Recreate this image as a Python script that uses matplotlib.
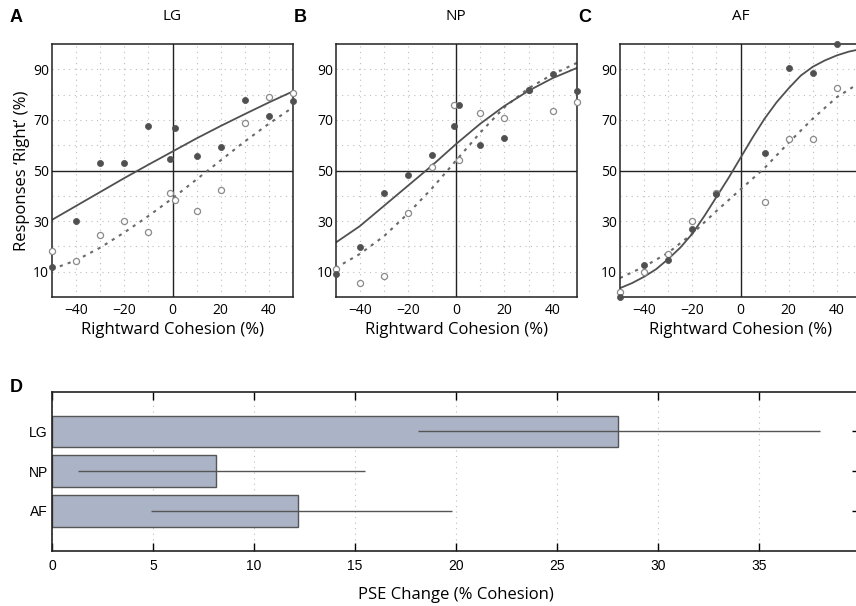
import numpy as np
import matplotlib
matplotlib.use("Agg")
from matplotlib import pyplot as plt

# Panels A-C: proportion of 'right' responses per cohesion level
coh_x = [-50, -40, -30, -20, -10, -1, 1, 10, 20, 30, 40, 50]

lg_filled = [12.0, 30.2, 53.0, 52.9, 67.6, 54.4, 66.7, 55.8, 59.4, 77.9, 71.4, 77.5]
lg_open = [18.0, 14.4, 24.7, 30.2, 25.5, 41.1, 38.5, 34.1, 42.3, 68.7, 79.0, 80.7]

np_filled = [9.1, 19.7, 41.1, 48.3, 56.2, 67.7, 75.8, 60.1, 62.8, 82.0, 88.1, 81.3]
np_open = [11.0, 5.6, 8.2, 33.2, 51.5, 75.8, 54.2, 72.8, 70.8, 82.0, 73.4, 77.2]

af_x = [-50, -40, -30, -20, -10, 10, 20, 30, 40]
af_filled = [0.0, 12.7, 14.7, 26.9, 40.7, 57.1, 90.6, 88.4, 100.0]
af_open = [2.1, 9.7, 17.1, 29.9, 41.1, 37.4, 62.6, 62.6, 82.7]

# fitted psychometric curves
fit_x = [-50, -40, -30, -20, -10, 0, 10, 20, 30, 40, 50]
lg_fit_solid = [30.5, 36.0, 41.5, 47.0, 52.3, 57.5, 62.7, 67.6, 72.3, 76.9, 81.3]
lg_fit_dashed = [11.0, 14.5, 19.5, 25.5, 32.0, 39.0, 46.5, 54.0, 61.5, 68.5, 75.0]
np_fit_solid = [21.5, 28.0, 36.0, 44.0, 52.0, 60.5, 68.5, 75.5, 81.5, 86.5, 90.5]
np_fit_dashed = [11.5, 17.0, 24.0, 33.0, 43.0, 54.0, 65.0, 75.0, 82.5, 88.0, 92.5]
af_fit_x = [-50, -45, -40, -35, -30, -25, -20, -15, -10, -5, 0,
            5, 10, 15, 20, 25, 30, 35, 40, 45, 50]
af_fit_solid = [3.5, 5.5, 8.0, 11.0, 15.0, 19.5, 25.0, 32.0, 39.5, 47.0, 55.0,
                63.0, 70.5, 77.0, 82.5, 87.5, 91.0, 93.5, 95.5, 97.0, 98.0]
af_fit_dashed = [7.5, 12.0, 17.5, 25.0, 34.0, 42.5, 51.0, 61.0, 70.5, 79.0, 85.0]

# Panel D: PSE change with confidence interval
pse_labels = ["LG", "NP", "AF"]
pse_change = [28.0, 8.1, 12.2]
pse_low = [18.1, 1.3, 4.9]
pse_high = [38.0, 15.5, 19.8]

myriad = "Open Sans"
arial = "Liberation Sans"
dark = "#505050"
light = "#8a8a8a"

fig = plt.figure(figsize=(8.56, 6.06), dpi=100)

panels = [
    ("A", "LG", 52, coh_x, lg_filled, lg_open, fit_x, lg_fit_solid, fit_x, lg_fit_dashed),
    ("B", "NP", 335.7, coh_x, np_filled, np_open, fit_x, np_fit_solid, fit_x, np_fit_dashed),
    ("C", "AF", 620, af_x, af_filled, af_open, af_fit_x, af_fit_solid, fit_x, af_fit_dashed),
]

for letter, name, left, xs, filled, hollow, sx, solid, dx, dashed in panels:
    ax = fig.add_axes([left / 856, 309 / 606, 241 / 856, 253 / 606])
    ax.set_xlim(-50, 50)
    ax.set_ylim(0, 100)
    ax.set_xticks(np.arange(-40, 41, 10), minor=True)
    ax.set_yticks(np.arange(10, 100, 10), minor=True)
    ax.set_xticks([-40, -20, 0, 20, 40])
    ax.set_yticks([10, 30, 50, 70, 90])
    ax.set_axisbelow(True)
    ax.grid(True, which="both", color="#bdbdbd", linestyle=(0, (1, 4)), linewidth=0.8)
    ax.tick_params(which="both", length=0, pad=2)
    ax.tick_params(axis="x", pad=4)
    for lab in ax.get_xticklabels() + ax.get_yticklabels():
        lab.set_fontfamily(myriad)
        lab.set_fontsize(10)
    for s in ax.spines.values():
        s.set_linewidth(1.1)
        s.set_color("#222222")
    ax.axvline(0, color="#222222", lw=1.0, zorder=1.5)
    ax.axhline(50, color="#222222", lw=1.0, zorder=1.5)

    ax.plot(dx, dashed, color="#6a6a6a", lw=1.5, linestyle=(0, (1.5, 2.5)), zorder=2)
    ax.plot(sx, solid, color=dark, lw=1.3, zorder=2)
    ax.plot(xs, hollow, "o", ms=4.4, mfc="white", mec=light, mew=0.9, zorder=3, clip_on=False)
    ax.plot(xs, filled, "o", ms=4.4, mfc=dark, mec=dark, mew=0.5, zorder=4, clip_on=False)

    ax.set_title(name, fontfamily=myriad, fontsize=11, pad=17)
    ax.set_xlabel("Rightward Cohesion (%)", fontfamily=myriad, fontsize=12, labelpad=3)
    if letter == "A":
        ax.set_ylabel("Responses \u2018Right\u2019 (%)", fontfamily=myriad, fontsize=12, labelpad=2)
    fig.text((left - 42) / 856, 1 - 17 / 606, letter, fontfamily=arial, fontweight="bold",
             fontsize=13, va="center", ha="left")

# Panel D
axd = fig.add_axes([52 / 856, 55.3 / 606, 808 / 856, 159 / 606])
pos = [3, 2, 1]
err = [np.subtract(pse_change, pse_low), np.subtract(pse_high, pse_change)]
axd.barh(pos, pse_change, height=0.8, color="#aab4c6", edgecolor="#555555", linewidth=1.0, zorder=2)
axd.errorbar(pse_change, pos, xerr=err, fmt="none", ecolor="#555555", elinewidth=1.0,
             capsize=0, zorder=3)
axd.set_xlim(0, 40)
axd.set_ylim(0, 4)
axd.set_xticks(np.arange(0, 36, 5))
axd.set_yticks(pos)
axd.set_yticklabels(pse_labels)
axd.xaxis.grid(True, color="#bdbdbd", linestyle=(0, (1, 4)), linewidth=0.8)
axd.set_axisbelow(True)
axd.tick_params(direction="in", top=True, right=True, length=5.5, width=1.0, pad=6)
axd.tick_params(axis="y", pad=3)
for lab in axd.get_xticklabels() + axd.get_yticklabels():
    lab.set_fontfamily(arial)
    lab.set_fontsize(10)
for s in axd.spines.values():
    s.set_linewidth(1.2)
    s.set_color("#222222")
axd.set_xlabel("PSE Change (% Cohesion)", fontfamily=myriad, fontsize=12, labelpad=10)
fig.text(10 / 856, 1 - 388 / 606, "D", fontfamily=arial, fontweight="bold",
         fontsize=13, va="center", ha="left")

fig.savefig("out.png", dpi=100)
